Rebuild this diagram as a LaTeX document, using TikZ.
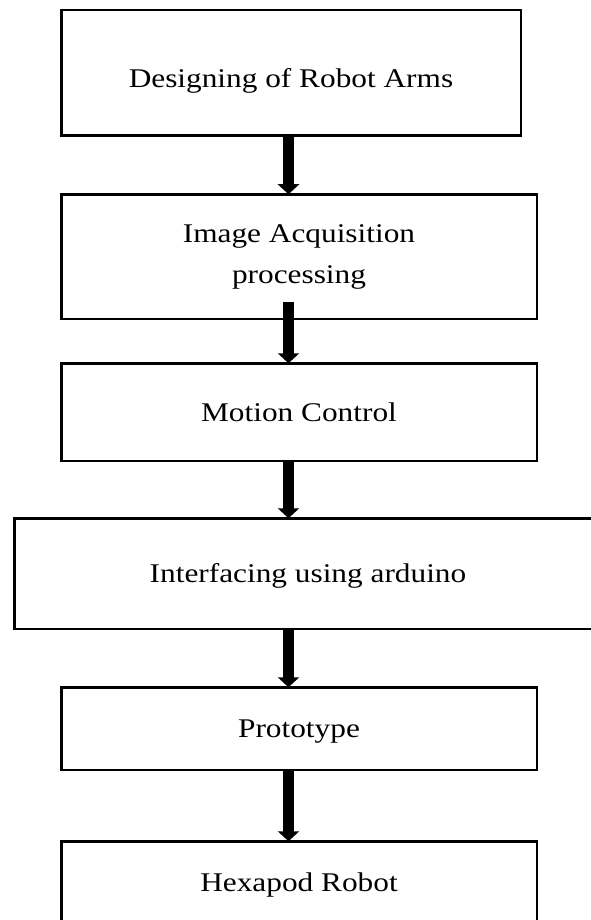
\documentclass[tikz,border=0pt]{standalone}
\usepackage{fontspec}
\setmainfont{Liberation Serif}[FakeStretch=1.16]
\usetikzlibrary{arrows.meta, calc}

\begin{document}
\begin{tikzpicture}[x=1pt, y=-1pt,
    stage/.style={draw, line width=2.5pt, rectangle, inner sep=0pt, outer sep=0pt,
      minimum width=475.5pt, font=\fontsize{27}{41}\selectfont, align=center},
    oneline/.style={text height=18pt, text depth=0pt},
    flow/.style={line width=10.5pt, -{Triangle[width=21pt, length=10pt]}}]
    \useasboundingbox (0,0) rectangle (591,920);

    % the stages, top to bottom
    \node[stage, oneline, minimum width=459.5pt, minimum height=125.5pt, text height=30pt] (arms) at (291, 73) {Designing of Robot Arms};
    \node[stage, minimum height=124.5pt] (image) at (299, 256.5) {Image Acquisition\\processing};
    \node[stage, oneline, minimum height=97.5pt] (motion) at (299, 412) {Motion Control};
    \node[stage, oneline, minimum width=587.5pt, minimum height=110.5pt] (arduino) at (308, 573.5) {Interfacing using arduino};
    \node[stage, oneline, minimum height=82.5pt] (proto) at (299, 728.5) {Prototype};
    \node[stage, oneline, minimum height=82.5pt] (hexapod) at (299, 882.5) {Hexapod Robot};

    % thick arrows down the middle
    \coordinate (spine) at (288.5, 0);
    \draw[flow] (arms.south -| spine) -- (image.north -| spine);
    \draw[flow] ($(image.south -| spine)+(0,-17)$) -- (motion.north -| spine);
    \draw[flow] (motion.south -| spine) -- (arduino.north -| spine);
    \draw[flow] (arduino.south -| spine) -- (proto.north -| spine);
    \draw[flow] (proto.south -| spine) -- (hexapod.north -| spine);
\end{tikzpicture}
\end{document}
